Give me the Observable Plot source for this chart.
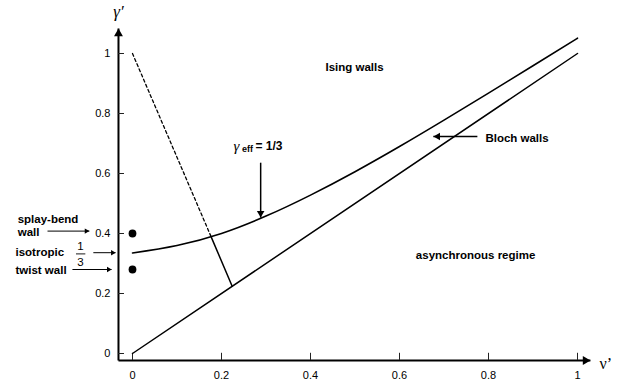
<!DOCTYPE html>
<html>
<head>
<meta charset="utf-8">
<script src="https://cdn.jsdelivr.net/npm/d3@7"></script>
<script src="https://cdn.jsdelivr.net/npm/@observablehq/plot@0.6"></script>
<style>
  html, body { margin: 0; padding: 0; background: #fff; }
  svg { overflow: visible; display: block; }
</style>
</head>
<body>
<div id="chart"></div>
<script>
// Ising–Bloch boundary in the (ν', γ') plane
const nu = [0, 0.1, 0.2, 0.3, 0.4, 0.5, 0.6, 0.7, 0.8, 0.9, 1.0];
const gammaBoundary = [0.335, 0.36, 0.40, 0.458, 0.528, 0.606, 0.69, 0.778, 0.868, 0.959, 1.051];

// limit of the asynchronous regime, γ' = ν'
const asyncNu = [0, 1];
const asyncGamma = [0, 1];

// γ_eff = 1/3 line: dashed above the boundary, solid below it
const effDashNu = [0, 0.177];
const effDashGamma = [1, 0.388];
const effSolidNu = [0.177, 0.224];
const effSolidGamma = [0.388, 0.224];

// splay-bend and twist walls at ν' = 0
const wallNu = [0, 0];
const wallGamma = [0.4, 0.28];

// tick values and labels
const xTicks = [0, 0.2, 0.4, 0.6, 0.8, 1];
const xTickLabels = ["0", "0.2", "0.4", "0.6", "0.8", "1"];
const yTicks = [0, 0.2, 0.4, 0.6, 0.8, 1];
const yTickLabels = ["0", "0.2", "0.4", "0.6", "0.8", "1"];

// axis placement (data units)
const axisNu = -0.0315, axisGamma = -0.0233;
const xAxisEnd = 1.029, yAxisEnd = 1.083;

// annotation texts and where they sit
const centeredLabels = [
  {x: 0.499, y: 0.954, text: "Ising walls"},
  {x: 0.771, y: 0.327, text: "asynchronous regime"}
];
const blochLabel = [{x: 0.793, y: 0.718, text: "Bloch walls"}];
const sideLabels = [
  {x: -0.258, y: 0.447, text: "splay-bend"},
  {x: -0.258, y: 0.403, text: "wall"},
  {x: -0.263, y: 0.337, text: "isotropic"},
  {x: -0.263, y: 0.277, text: "twist wall"}
];
const fraction = [
  {x: -0.117, y: 0.357, text: "1"},
  {x: -0.117, y: 0.305, text: "3"}
];
const fractionBar = [{x1: -0.127, x2: -0.106, y: 0.332}];

// pointer arrows: [start, end]
const sideArrows = [
  {x1: -0.191, y1: 0.408, x2: -0.097, y2: 0.408},
  {x1: -0.088, y1: 0.336, x2: -0.038, y2: 0.336},
  {x1: -0.135, y1: 0.28, x2: -0.047, y2: 0.28}
];
const effArrow = {x1: 0.288, y1: 0.636, x2: 0.288, y2: 0.453};
const blochArrow = {x1: 0.775, y1: 0.723, x2: 0.676, y2: 0.723};
const effLabel = {x: 0.227, y: 0.69};

const sans = "'Liberation Sans', Arial, Helvetica, sans-serif";
const serif = "'Liberation Serif', 'DejaVu Serif', serif";

const chart = Plot.plot({
  width: 628,
  height: 389,
  marginLeft: 132,
  marginRight: 51,
  marginTop: 53,
  marginBottom: 36,
  x: {domain: [0, 1], axis: null},
  y: {domain: [0, 1], axis: null},
  style: {background: "#fff", fontFamily: sans, overflow: "visible"},
  marks: [
    // axes
    Plot.link([{x1: axisNu, y1: axisGamma, x2: axisNu, y2: yAxisEnd},
               {x1: axisNu, y1: axisGamma, x2: xAxisEnd, y2: axisGamma}],
      {x1: "x1", y1: "y1", x2: "x2", y2: "y2", stroke: "#000", strokeWidth: 2}),
    Plot.dot([{x: axisNu, y: yAxisEnd}], {x: "x", y: "y", symbol: "triangle", r: 3.3, fill: "#000", dy: 5}),
    Plot.dot([{x: xAxisEnd, y: axisGamma}], {x: "x", y: "y", symbol: "triangle", r: 3.3, rotate: 90, fill: "#000", dx: -5}),

    // ticks
    Plot.ruleY(yTicks, {y: d => d, x1: () => axisNu, x2: () => axisNu + 0.0135, stroke: "#222", strokeWidth: 1}),
    Plot.ruleX(xTicks, {x: d => d, y1: () => axisGamma, y2: () => axisGamma + 0.024, stroke: "#222", strokeWidth: 1}),
    Plot.text(yTicks, {x: () => axisNu, y: d => d, text: (d, i) => yTickLabels[i], textAnchor: "end", dx: -8, fontSize: 11, fill: "#000"}),
    Plot.text(xTicks, {x: d => d, y: () => axisGamma, text: (d, i) => xTickLabels[i], dy: 15, fontSize: 11, fill: "#000"}),

    // axis labels
    Plot.text(["γ′"], {x: () => axisNu, y: () => yAxisEnd, dy: -17, text: d => d, fontFamily: serif, fontStyle: "italic", fontSize: 17, fill: "#000"}),
    Plot.text(["ν’"], {x: () => xAxisEnd, y: () => axisGamma, dx: 9, dy: 3, text: d => d, textAnchor: "start", fontFamily: serif, fontSize: 16, fill: "#000"}),

    // curves
    Plot.line(gammaBoundary, {x: (d, i) => nu[i], y: d => d, curve: "natural", stroke: "#000", strokeWidth: 1.6}),
    Plot.line(asyncGamma, {x: (d, i) => asyncNu[i], y: d => d, stroke: "#000", strokeWidth: 1.5}),
    Plot.line(effDashGamma, {x: (d, i) => effDashNu[i], y: d => d, stroke: "#000", strokeWidth: 1.3, strokeDasharray: "3,2.6"}),
    Plot.line(effSolidGamma, {x: (d, i) => effSolidNu[i], y: d => d, stroke: "#000", strokeWidth: 1.5}),

    // wall points
    Plot.dot(wallGamma, {x: (d, i) => wallNu[i], y: d => d, r: 3.9, fill: "#000"}),

    // region labels
    Plot.text(centeredLabels, {x: "x", y: "y", text: "text", textAnchor: "middle", fontSize: 11.5, fontWeight: "bold", fill: "#000"}),
    Plot.text(blochLabel, {x: "x", y: "y", text: "text", textAnchor: "start", fontSize: 11.5, fontWeight: "bold", fill: "#000"}),
    Plot.text(sideLabels, {x: "x", y: "y", text: "text", textAnchor: "start", fontSize: 11.5, fontWeight: "bold", fill: "#000"}),
    Plot.text(fraction, {x: "x", y: "y", text: "text", fontSize: 11.5, fill: "#000"}),
    Plot.link(fractionBar, {x1: "x1", x2: "x2", y1: "y", y2: "y", stroke: "#000", strokeWidth: 0.9}),

    // γ_eff = 1/3 label
    Plot.text([effLabel], {x: "x", y: "y", text: () => "γ", textAnchor: "start", fontFamily: serif, fontStyle: "italic", fontSize: 15, fill: "#000"}),
    Plot.text([effLabel], {x: "x", y: "y", text: () => "eff", textAnchor: "start", dx: 8.5, dy: 3, fontSize: 9, fontWeight: "bold", fill: "#000"}),
    Plot.text([effLabel], {x: "x", y: "y", text: () => "= 1/3", textAnchor: "start", dx: 22, fontSize: 12, fontWeight: "bold", fill: "#000"}),

    // pointer arrows
    Plot.link(sideArrows, {x1: "x1", y1: "y1", x2: "x2", y2: "y2", stroke: "#000", strokeWidth: 1}),
    Plot.dot(sideArrows, {x: "x2", y: "y2", symbol: "triangle", r: 2, rotate: 90, fill: "#000", dx: -3}),
    Plot.link([effArrow, blochArrow], {x1: "x1", y1: "y1", x2: "x2", y2: "y2", stroke: "#000", strokeWidth: 1.5}),
    Plot.dot([effArrow], {x: "x2", y: "y2", symbol: "triangle", r: 2.8, rotate: 180, fill: "#000", dy: -4.5}),
    Plot.dot([blochArrow], {x: "x2", y: "y2", symbol: "triangle", r: 2.8, rotate: -90, fill: "#000", dx: 4.5})
  ]
});

document.getElementById("chart").appendChild(chart);
</script>
</body>
</html>
